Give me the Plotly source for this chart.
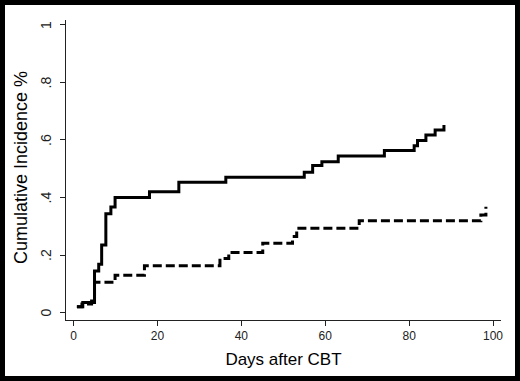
import plotly.graph_objects as go

# Data
solid_days = [0.8, 2.2, 5.0, 6.0, 6.7, 7.7, 8.9, 9.9, 18.1, 25.1, 36.3, 55.0, 57.0, 59.2, 63.1, 74.1, 81.2, 82.0, 84.0, 86.2, 88.3]
solid_vals = [0.02, 0.035, 0.144, 0.168, 0.235, 0.343, 0.367, 0.40, 0.42, 0.453, 0.47, 0.488, 0.511, 0.524, 0.544, 0.563, 0.580, 0.598, 0.617, 0.635, 0.652]

dash_days = [0.8, 2.0, 4.3, 5.0, 9.9, 16.9, 34.9, 37.0, 45.1, 52.2, 53.2, 68.1, 97.1, 98.3]
dash_vals = [0.02, 0.03, 0.05, 0.105, 0.13, 0.163, 0.188, 0.209, 0.241, 0.264, 0.293, 0.319, 0.339, 0.368]

x_ticks = [0, 20, 40, 60, 80, 100]
y_ticks = [0, 0.2, 0.4, 0.6, 0.8, 1]
y_tick_labels = ["0", ".2", ".4", ".6", ".8", "1"]

W, H = 520, 381
L, R, T, B = 66, 19, 20, 61
pw, ph = W - L - R, H - T - B

fig = go.Figure()
fig.add_trace(go.Scatter(x=solid_days, y=solid_vals, mode="lines", line_shape="hv",
                         line=dict(color="black", width=3), showlegend=False))
fig.add_trace(go.Scatter(x=dash_days, y=dash_vals, mode="lines", line_shape="hv",
                         line=dict(color="black", width=3, dash="9px,4px"), showlegend=False))

# white page inside a black frame
bw = 5
fig.add_shape(type="rect", xref="paper", yref="paper", layer="below",
              x0=(bw - L) / pw, x1=(W - bw - L) / pw,
              y0=(T + ph - (H - bw)) / ph, y1=(T + ph - bw) / ph,
              fillcolor="white", line=dict(width=0))

font = "Arial, Liberation Sans, sans-serif"

# rotated y tick labels (Stata style), placed on the y axis scale
for v, lab in zip(y_ticks, y_tick_labels):
    fig.add_annotation(text=lab, textangle=-90, showarrow=False,
                       xref="paper", yref="y", x=(46 - L) / pw, y=v,
                       xanchor="center", yanchor="middle",
                       font=dict(size=14, color="#222"))

# y-axis title as a rotated annotation
fig.add_annotation(text="Cumulative Incidence %", textangle=-90, showarrow=False,
                   xref="paper", yref="paper", x=(21 - L) / pw, y=(T + ph - 168) / ph,
                   xanchor="center", yanchor="middle", font=dict(size=18, color="black"))

fig.update_layout(
    width=W, height=H,
    margin=dict(l=L, r=R, t=T, b=B, autoexpand=False),
    paper_bgcolor="black", plot_bgcolor="white",
    font=dict(family=font, color="black"),
    xaxis=dict(range=[-1.8, 101.9], tickvals=x_ticks, ticks="outside", ticklen=5,
               tickcolor="#222", showline=True, linecolor="#222", linewidth=1,
               showgrid=False, zeroline=False, tickfont=dict(size=12, color="#222"),
               automargin=False,
               title=dict(text="Days after CBT", font=dict(size=17), standoff=10)),
    yaxis=dict(range=[-0.026, 1.017], tickvals=y_ticks, showticklabels=False,
               ticks="outside", ticklen=5, tickcolor="#222",
               showline=True, linecolor="#222", linewidth=1, automargin=False,
               showgrid=False, zeroline=False),
)

fig.write_html("out.html", config={"displayModeBar": False},
               post_script="document.body.style.margin='0';document.body.style.overflow='hidden';")
